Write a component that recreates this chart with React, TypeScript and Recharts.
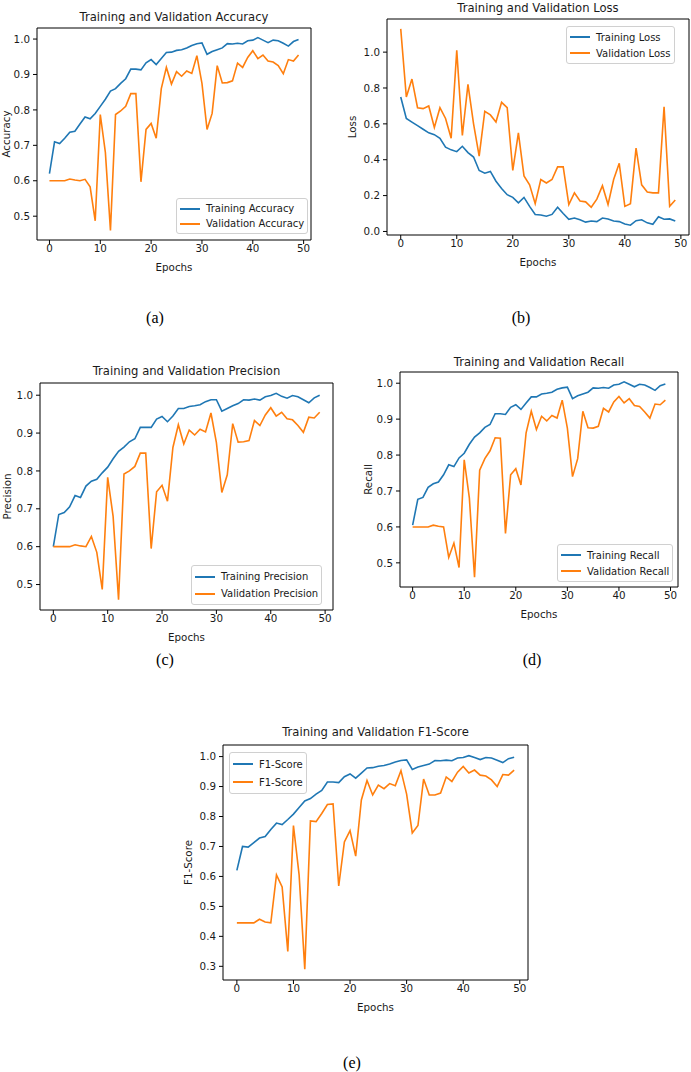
import React from "react";
import { LineChart, Line, XAxis, YAxis, ReferenceArea, Label } from "recharts";

const epochs = [
  0, 1, 2, 3, 4, 5, 6, 7, 8, 9, 10, 11, 12, 13, 14, 15, 16, 17, 18, 19, 20, 21, 22, 23, 24,
  25, 26, 27, 28, 29, 30, 31, 32, 33, 34, 35, 36, 37, 38, 39, 40, 41, 42, 43, 44, 45, 46, 47, 48, 49,
];
const xTicks = [0, 10, 20, 30, 40, 50];

const accTrain = [
  0.62, 0.71, 0.705, 0.72, 0.737, 0.74, 0.76, 0.78, 0.775, 0.79, 0.81, 0.83, 0.853, 0.86, 0.875,
  0.888, 0.915, 0.915, 0.913, 0.933, 0.942, 0.928, 0.945, 0.962, 0.963, 0.968, 0.97, 0.975, 0.982,
  0.987, 0.989, 0.957, 0.965, 0.97, 0.975, 0.987, 0.986, 0.988, 0.986, 0.995, 0.997, 1.004, 0.997,
  0.99, 0.997, 0.995, 0.988, 0.98, 0.993, 0.999,
];
const accVal = [
  0.6, 0.6, 0.6, 0.6, 0.605, 0.602, 0.6, 0.604, 0.583, 0.487, 0.787, 0.68, 0.46, 0.787, 0.797,
  0.81, 0.846, 0.846, 0.597, 0.745, 0.762, 0.72, 0.86, 0.92, 0.873, 0.908, 0.895, 0.91, 0.903,
  0.953, 0.875, 0.745, 0.79, 0.925, 0.876, 0.877, 0.882, 0.932, 0.92, 0.948, 0.967, 0.945, 0.955,
  0.938, 0.935, 0.925, 0.902, 0.942, 0.938, 0.955,
];

const lossTrain = [
  0.75, 0.63, 0.61, 0.59, 0.57, 0.55, 0.54, 0.52, 0.47, 0.455, 0.445, 0.475, 0.44, 0.415, 0.34,
  0.325, 0.335, 0.28, 0.24, 0.205, 0.19, 0.16, 0.19, 0.14, 0.095, 0.092, 0.085, 0.095, 0.135, 0.1,
  0.068, 0.075, 0.065, 0.052, 0.058, 0.055, 0.075, 0.07, 0.058, 0.055, 0.042, 0.035, 0.06, 0.065,
  0.048, 0.04, 0.082, 0.068, 0.07, 0.058,
];
const lossVal = [
  1.13, 0.75, 0.85, 0.69, 0.685, 0.7, 0.58, 0.69, 0.63, 0.52, 1.01, 0.535, 0.82, 0.6, 0.42, 0.67,
  0.65, 0.61, 0.72, 0.69, 0.34, 0.55, 0.31, 0.26, 0.155, 0.29, 0.27, 0.29, 0.36, 0.36, 0.15, 0.215,
  0.17, 0.165, 0.135, 0.18, 0.255, 0.15, 0.29, 0.38, 0.14, 0.155, 0.465, 0.26, 0.22, 0.215, 0.215,
  0.695, 0.14, 0.175,
];

const precTrain = [
  0.6, 0.685, 0.69, 0.705, 0.735, 0.73, 0.76, 0.773, 0.778, 0.795, 0.81, 0.832, 0.852, 0.863,
  0.877, 0.885, 0.915, 0.915, 0.915, 0.937, 0.944, 0.93, 0.945, 0.965, 0.965, 0.97, 0.972, 0.975,
  0.983, 0.988, 0.988, 0.958, 0.965, 0.972, 0.978, 0.988, 0.987, 0.99, 0.987, 0.996, 0.999, 1.005,
  0.997, 0.992, 0.999, 0.996, 0.988, 0.98, 0.993, 1.0,
];
const precVal = [
  0.6, 0.6, 0.6, 0.6, 0.605, 0.602, 0.6, 0.627, 0.585, 0.487, 0.783, 0.68, 0.46, 0.792, 0.8, 0.812,
  0.847, 0.847, 0.595, 0.745, 0.762, 0.72, 0.862, 0.922, 0.871, 0.908, 0.895, 0.91, 0.903, 0.953,
  0.875, 0.743, 0.79, 0.925, 0.876, 0.877, 0.88, 0.933, 0.92, 0.948, 0.967, 0.945, 0.955, 0.938,
  0.935, 0.92, 0.902, 0.942, 0.94, 0.955,
];

const recTrain = [
  0.605, 0.677, 0.682, 0.71, 0.72, 0.725, 0.745, 0.773, 0.768, 0.792, 0.805, 0.83, 0.85, 0.862,
  0.877, 0.885, 0.915, 0.915, 0.913, 0.933, 0.94, 0.927, 0.945, 0.962, 0.962, 0.97, 0.972, 0.975,
  0.983, 0.987, 0.989, 0.957, 0.965, 0.97, 0.975, 0.987, 0.986, 0.988, 0.986, 0.995, 0.997, 1.004,
  0.997, 0.99, 0.997, 0.995, 0.988, 0.98, 0.993, 0.998,
];
const recVal = [
  0.6, 0.6, 0.6, 0.6, 0.605, 0.602, 0.6, 0.515, 0.555, 0.487, 0.787, 0.68, 0.46, 0.758, 0.79,
  0.812, 0.848, 0.847, 0.582, 0.745, 0.762, 0.717, 0.862, 0.922, 0.871, 0.908, 0.895, 0.91, 0.903,
  0.953, 0.875, 0.74, 0.79, 0.922, 0.876, 0.875, 0.88, 0.93, 0.92, 0.948, 0.963, 0.945, 0.957,
  0.938, 0.935, 0.92, 0.903, 0.942, 0.94, 0.953,
];

const f1Train = [
  0.62, 0.7, 0.698, 0.713, 0.728, 0.733, 0.757, 0.778, 0.773, 0.79, 0.808, 0.83, 0.852, 0.86,
  0.875, 0.887, 0.915, 0.915, 0.913, 0.933, 0.942, 0.928, 0.945, 0.962, 0.963, 0.968, 0.97, 0.975,
  0.982, 0.987, 0.989, 0.957, 0.965, 0.97, 0.975, 0.987, 0.986, 0.988, 0.986, 0.995, 0.997, 1.003,
  0.997, 0.99, 0.997, 0.995, 0.988, 0.98, 0.993, 0.998,
];
const f1Val = [
  0.445, 0.445, 0.445, 0.445, 0.457, 0.448, 0.445, 0.605, 0.565, 0.35, 0.77, 0.605, 0.29, 0.785,
  0.783, 0.81, 0.84, 0.842, 0.568, 0.715, 0.753, 0.668, 0.855, 0.92, 0.872, 0.905, 0.893, 0.91,
  0.903, 0.953, 0.875, 0.745, 0.77, 0.925, 0.872, 0.872, 0.878, 0.932, 0.917, 0.948, 0.967, 0.945,
  0.955, 0.938, 0.935, 0.922, 0.9, 0.94, 0.938, 0.955,
];

const BLUE = "#1f77b4";
const ORANGE = "#ff7f0e";
const FONT = "'DejaVu Sans', sans-serif";
const X_DOMAIN: [number, number] = [-2.45, 51.45];

function padDomain(a: number[], b: number[]): [number, number] {
  const all = a.concat(b);
  const lo = Math.min(...all);
  const hi = Math.max(...all);
  const m = (hi - lo) * 0.05;
  return [lo - m, hi + m];
}

interface PanelProps {
  title: string;
  yLabel: string;
  train: number[];
  val: number[];
  trainName: string;
  valName: string;
  yTicks: number[];
  frame: { l: number; t: number; r: number; b: number };
  titleY: number;
  yLabelOffset: number;
  legend: { left: number; top: number; rowH: number };
  caption: { text: string; x: number; y: number };
}

function Panel(p: PanelProps) {
  const { l, t, r, b } = p.frame;
  const yAxisW = 40;
  const mTop = 5;
  const mRight = 5;
  const xAxisH = 34;
  const w = r - l + yAxisW + mRight;
  const h = b - t + mTop + xAxisH;
  const rows = epochs.map((e, i) => ({ epoch: e, train: p.train[i], val: p.val[i] }));
  const [ylo, yhi] = padDomain(p.train, p.val);
  const tickStyle = { fill: "#1a1a1a", fontSize: 10.3, fontFamily: FONT };

  return (
    <>
      <div style={{ position: "absolute", left: l - yAxisW, top: t - mTop }}>
        <LineChart width={w} height={h} data={rows} margin={{ top: mTop, right: mRight, left: 0, bottom: 0 }}>
          <XAxis
            dataKey="epoch"
            type="number"
            domain={X_DOMAIN}
            ticks={xTicks}
            allowDataOverflow
            axisLine={false}
            tickLine={{ stroke: "#000" }}
            tickSize={4}
            tickMargin={1}
            tick={tickStyle}
            height={xAxisH}
          >
            <Label value="Epochs" position="insideBottom" offset={3} style={{ fill: "#1a1a1a", fontSize: 10.3, fontFamily: FONT }} />
          </XAxis>
          <YAxis
            type="number"
            domain={[ylo, yhi]}
            ticks={p.yTicks}
            allowDataOverflow
            axisLine={false}
            tickLine={{ stroke: "#000" }}
            tickSize={4}
            tickMargin={3}
            tick={tickStyle}
            tickFormatter={(v: number) => v.toFixed(1)}
            width={yAxisW}
          >
            <Label
              value={p.yLabel}
              angle={-90}
              position="insideLeft"
              offset={p.yLabelOffset}
              style={{ fill: "#1a1a1a", fontSize: 10.3, fontFamily: FONT, textAnchor: "middle" }}
            />
          </YAxis>
          <ReferenceArea
            x1={X_DOMAIN[0]}
            x2={X_DOMAIN[1]}
            y1={ylo}
            y2={yhi}
            fill="none"
            stroke="#000"
            strokeWidth={1}
            ifOverflow="visible"
          />
          <Line dataKey="train" stroke={BLUE} strokeWidth={1.6} dot={false} isAnimationActive={false} />
          <Line dataKey="val" stroke={ORANGE} strokeWidth={1.6} dot={false} isAnimationActive={false} />
        </LineChart>
      </div>
      <div
        style={{
          position: "absolute",
          left: l - 40,
          width: r - l + 80,
          top: p.titleY - 7,
          textAlign: "center",
          fontFamily: FONT,
          fontSize: 11.6,
          lineHeight: "14px",
          color: "#1a1a1a",
          whiteSpace: "nowrap",
        }}
      >
        {p.title}
      </div>
      <div
        style={{
          position: "absolute",
          left: p.legend.left,
          top: p.legend.top,
          padding: "2px 3px 2px 3px",
          background: "rgba(255,255,255,0.8)",
          border: "1px solid #d0d0d0",
          borderRadius: 3,
          fontFamily: FONT,
          fontSize: 10,
          color: "#1a1a1a",
        }}
      >
        {[
          { name: p.trainName, color: BLUE },
          { name: p.valName, color: ORANGE },
        ].map((it) => (
          <div key={it.color} style={{ display: "flex", alignItems: "center", height: p.legend.rowH, whiteSpace: "nowrap" }}>
            <span style={{ display: "inline-block", width: 20, height: 2, background: it.color, marginRight: 6 }} />
            {it.name}
          </div>
        ))}
      </div>
      <div
        style={{
          position: "absolute",
          left: p.caption.x - 30,
          width: 60,
          top: p.caption.y - 9,
          textAlign: "center",
          fontFamily: "'Liberation Serif', 'Times New Roman', serif",
          fontSize: 16,
          lineHeight: "18px",
          color: "#000",
        }}
      >
        {p.caption.text}
      </div>
    </>
  );
}

export default function App() {
  return (
    <div style={{ position: "absolute", left: 0, top: 0, width: 691, height: 1072, background: "#fff", overflow: "hidden" }}>
      <Panel
        title="Training and Validation Accuracy"
        yLabel="Accuracy"
        train={accTrain}
        val={accVal}
        trainName="Training Accuracy"
        valName="Validation Accuracy"
        yTicks={[0.5, 0.6, 0.7, 0.8, 0.9, 1.0]}
        frame={{ l: 37, t: 28, r: 311, b: 240 }}
        titleY={17}
        yLabelOffset={9}
        legend={{ left: 176, top: 198, rowH: 15 }}
        caption={{ text: "(a)", x: 155, y: 318 }}
      />
      <Panel
        title="Training and Validation Loss"
        yLabel="Loss"
        train={lossTrain}
        val={lossVal}
        trainName="Training Loss"
        valName="Validation Loss"
        yTicks={[0, 0.2, 0.4, 0.6, 0.8, 1.0]}
        frame={{ l: 387, t: 19, r: 689, b: 235 }}
        titleY={8}
        yLabelOffset={5}
        legend={{ left: 566, top: 26, rowH: 16 }}
        caption={{ text: "(b)", x: 521, y: 318 }}
      />
      <Panel
        title="Training and Validation Precision"
        yLabel="Precision"
        train={precTrain}
        val={precVal}
        trainName="Training Precision"
        valName="Validation Precision"
        yTicks={[0.5, 0.6, 0.7, 0.8, 0.9, 1.0]}
        frame={{ l: 40, t: 383, r: 333, b: 610 }}
        titleY={371}
        yLabelOffset={7}
        legend={{ left: 191, top: 565, rowH: 17 }}
        caption={{ text: "(c)", x: 165, y: 660 }}
      />
      <Panel
        title="Training and Validation Recall"
        yLabel="Recall"
        train={recTrain}
        val={recVal}
        trainName="Training Recall"
        valName="Validation Recall"
        yTicks={[0.5, 0.6, 0.7, 0.8, 0.9, 1.0]}
        frame={{ l: 400, t: 372, r: 678, b: 587 }}
        titleY={362}
        yLabelOffset={8}
        legend={{ left: 557, top: 544, rowH: 16 }}
        caption={{ text: "(d)", x: 532, y: 660 }}
      />
      <Panel
        title="Training and Validation F1-Score"
        yLabel="F1-Score"
        train={f1Train}
        val={f1Val}
        trainName="F1-Score"
        valName="F1-Score"
        yTicks={[0.3, 0.4, 0.5, 0.6, 0.7, 0.8, 0.9, 1.0]}
        frame={{ l: 223, t: 745, r: 528, b: 980 }}
        titleY={732}
        yLabelOffset={5}
        legend={{ left: 229, top: 752, rowH: 18 }}
        caption={{ text: "(e)", x: 352, y: 1063 }}
      />
    </div>
  );
}
